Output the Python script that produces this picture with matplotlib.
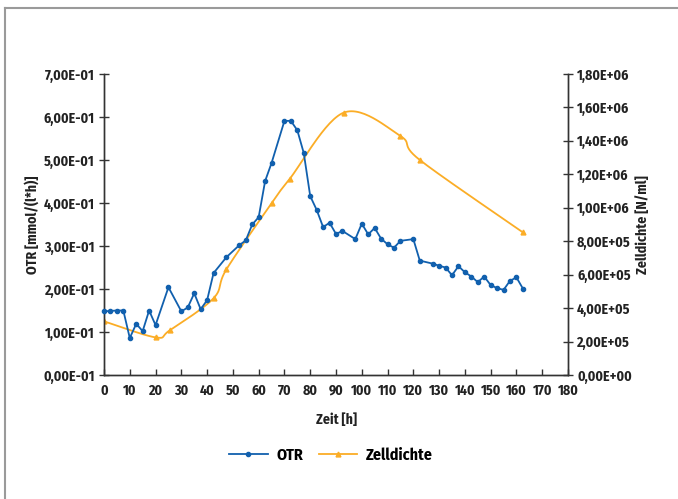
import numpy as np
import matplotlib
matplotlib.use("Agg")
import matplotlib.pyplot as plt
from matplotlib.lines import Line2D
from matplotlib.ticker import FixedLocator, FixedFormatter

# ---------------- data ----------------
otr_time = [0, 2.5, 5, 7.5, 10, 12.5, 15, 17.5, 20, 25, 30, 32.5, 35, 37.5, 40,
            42.5, 47.5, 52.5, 55, 57.5, 60, 62.5, 65, 70, 72.5, 75, 77.5, 80,
            82.5, 85, 87.5, 90, 92.5, 97.5, 100, 102.5, 105, 107.5, 110, 112.5,
            115, 120, 122.5, 127.5, 130, 132.5, 135, 137.5, 140, 142.5, 145,
            147.5, 150, 152.5, 155, 157.5, 160, 162.5]
otr_values = [0.148, 0.149, 0.150, 0.150, 0.086, 0.119, 0.102, 0.150, 0.116,
              0.204, 0.148, 0.157, 0.190, 0.153, 0.174, 0.237, 0.274, 0.302,
              0.313, 0.350, 0.367, 0.451, 0.493, 0.591, 0.591, 0.569, 0.516,
              0.416, 0.384, 0.344, 0.354, 0.328, 0.335, 0.316, 0.352, 0.327,
              0.342, 0.317, 0.304, 0.296, 0.312, 0.316, 0.266, 0.259, 0.254,
              0.250, 0.232, 0.253, 0.239, 0.229, 0.216, 0.229, 0.209, 0.202,
              0.198, 0.219, 0.227, 0.201]

zell_time = [0, 20, 25.5, 42.5, 47.5, 65, 72, 93, 115, 122.5, 162.5]
zell_values = [3.21e5, 2.25e5, 2.67e5, 4.59e5, 6.32e5, 1.027e6, 1.172e6,
               1.569e6, 1.429e6, 1.286e6, 8.53e5]

x_ticks = list(range(0, 181, 10))
left_ticks = [0.0, 0.1, 0.2, 0.3, 0.4, 0.5, 0.6, 0.7]
left_labels = ["0,00E-01", "1,00E-01", "2,00E-01", "3,00E-01", "4,00E-01",
               "5,00E-01", "6,00E-01", "7,00E-01"]
right_ticks = [0, 2e5, 4e5, 6e5, 8e5, 1e6, 1.2e6, 1.4e6, 1.6e6, 1.8e6]
right_labels = ["0,00E+00", "2,00E+05", "4,00E+05", "6,00E+05", "8,00E+05",
                "1,00E+06", "1,20E+06", "1,40E+06", "1,60E+06", "1,80E+06"]

# ---------------- style ----------------
FONT = ["Fira Sans Condensed", "DejaVu Sans"]
plt.rcParams["font.family"] = FONT
plt.rcParams["font.weight"] = "bold"
BLUE = "#1160AE"
ORANGE = "#FBAD26"
AXC = "#333333"
TXT = "#222222"
TS = 10


def smooth_curve(x, y, n=30):
    """Excel-like smoothed line (Catmull-Rom Bezier) through the given points."""
    x = np.asarray(x, float)
    y = np.asarray(y, float)
    xs, ys = [x[0]], [y[0]]
    for i in range(len(x) - 1):
        p0 = (x[i - 1], y[i - 1]) if i > 0 else (x[i], y[i])
        p1 = (x[i], y[i])
        p2 = (x[i + 1], y[i + 1])
        p3 = (x[i + 2], y[i + 2]) if i + 2 < len(x) else (x[i + 1], y[i + 1])
        c1 = (p1[0] + (p2[0] - p0[0]) / 6, p1[1] + (p2[1] - p0[1]) / 6)
        c2 = (p2[0] - (p3[0] - p1[0]) / 6, p2[1] - (p3[1] - p1[1]) / 6)
        t = np.linspace(0, 1, n)[1:]
        bx = ((1 - t) ** 3 * p1[0] + 3 * (1 - t) ** 2 * t * c1[0]
              + 3 * (1 - t) * t ** 2 * c2[0] + t ** 3 * p2[0])
        by = ((1 - t) ** 3 * p1[1] + 3 * (1 - t) ** 2 * t * c1[1]
              + 3 * (1 - t) * t ** 2 * c2[1] + t ** 3 * p2[1])
        xs.extend(bx)
        ys.extend(by)
    return np.array(xs), np.array(ys)


fig = plt.figure(figsize=(6.78, 4.99), dpi=100)
ax = fig.add_axes([104 / 678, 1 - 375 / 499, (568 - 104) / 678, (375 - 74) / 499])
ax2 = ax.twinx()

# OTR (left axis)
ax.plot(otr_time, otr_values, color=BLUE, lw=1.3, marker="o", ms=3,
        zorder=3, clip_on=False)

# Zelldichte (right axis)
sx, sy = smooth_curve(zell_time, zell_values)
ax2.plot(sx, sy, color=ORANGE, lw=1.3, zorder=2)
ax2.plot(zell_time, zell_values, ls="none", marker="^", ms=3.5,
         color=ORANGE, zorder=2)

ax.set_zorder(ax2.get_zorder() + 1)
ax.patch.set_visible(False)

ax.set_xlim(0, 180)
ax.set_ylim(0, 0.7)
ax2.set_ylim(0, 1.8e6)

ax.xaxis.set_major_locator(FixedLocator(x_ticks))
ax.set_xticklabels([str(v) for v in x_ticks])
ax.yaxis.set_major_locator(FixedLocator(left_ticks))
ax.yaxis.set_major_formatter(FixedFormatter(left_labels))
ax2.yaxis.set_major_locator(FixedLocator(right_ticks))
ax2.yaxis.set_major_formatter(FixedFormatter(right_labels))

for a in (ax, ax2):
    for s in a.spines.values():
        s.set_color(AXC)
        s.set_linewidth(1.0)
    a.spines["top"].set_visible(False)

ax.tick_params(axis="x", direction="in", length=4, width=1, color=AXC,
               labelsize=TS, labelcolor=TXT, pad=6)
ax.tick_params(axis="y", direction="inout", length=7, width=1, color=AXC,
               labelsize=TS, labelcolor=TXT, pad=3)
ax2.tick_params(axis="y", direction="inout", length=7, width=1, color=AXC,
                labelsize=TS, labelcolor=TXT, pad=3)
for lab in ax.get_xticklabels() + ax.get_yticklabels() + ax2.get_yticklabels():
    lab.set_fontweight("bold")

ax.set_ylabel("OTR [mmol/(l*h)]", fontsize=TS, fontweight="bold", color=TXT,
              labelpad=3)
ax2.set_ylabel("Zelldichte [N/ml]", fontsize=TS, fontweight="bold", color=TXT,
               labelpad=3, rotation=90)
ax.set_xlabel("Zeit [h]", fontsize=TS, fontweight="bold", color=TXT, labelpad=11)

# legend
handles = [Line2D([], [], color=BLUE, lw=1.3, marker="o", ms=3),
           Line2D([], [], color=ORANGE, lw=1.3, marker="^", ms=3.5)]
fig.legend(handles, ["OTR", "Zelldichte"], loc="center",
           bbox_to_anchor=(331 / 678, 1 - 455 / 499), ncol=2, frameon=False,
           prop={"family": FONT, "weight": "bold", "size": 11.5},
           handlelength=2.4, columnspacing=0.95, handletextpad=0.56,
           markerscale=1.0)

# outer frame (top and left edges visible)
fig.add_artist(Line2D([5 / 678, 5 / 678], [0, 1 - 8 / 499], color="#9a9a9a",
                      lw=1.5, transform=fig.transFigure))
fig.add_artist(Line2D([5 / 678, 1], [1 - 8 / 499, 1 - 8 / 499], color="#9a9a9a",
                      lw=1.5, transform=fig.transFigure))

fig.savefig("out.png", dpi=100)
